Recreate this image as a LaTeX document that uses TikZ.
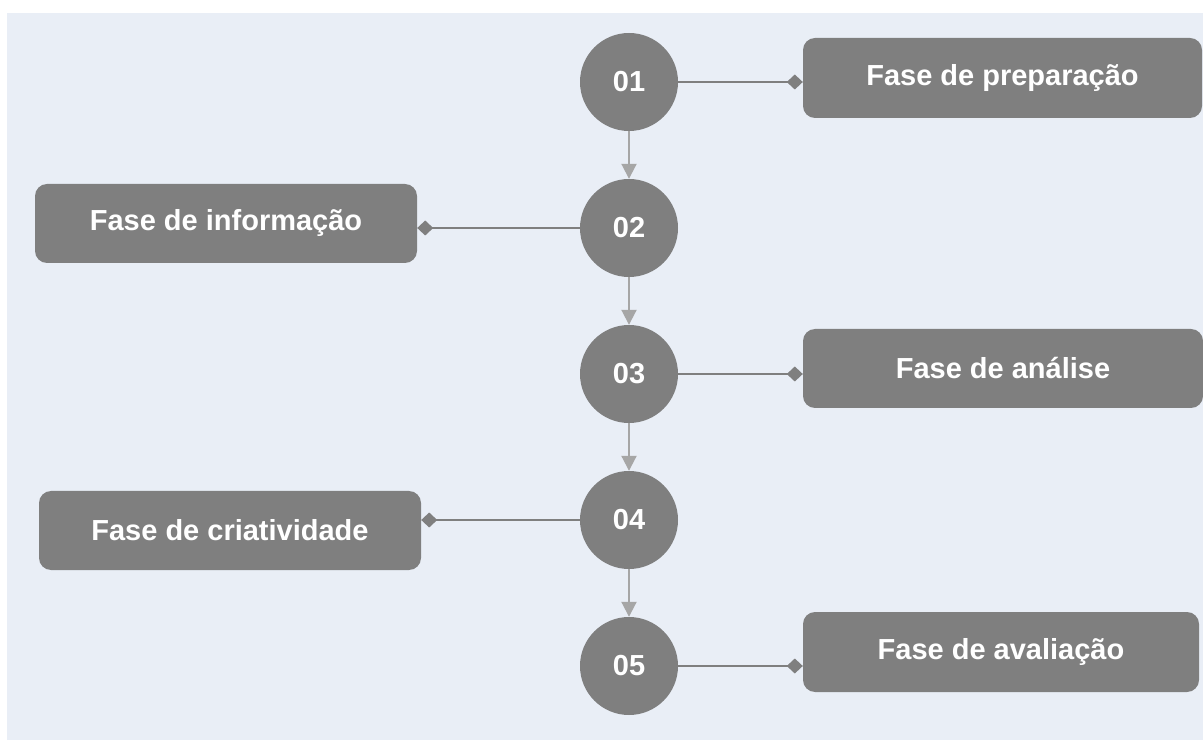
\documentclass[tikz,border=0pt]{standalone}
\usepackage{fontspec}
\setmainfont{Liberation Sans}
\usepackage{xcolor}
\usepackage{tikz}
\usetikzlibrary{arrows.meta, positioning}

\definecolor{bgblue}{RGB}{233,238,246}
\definecolor{nodegray}{RGB}{127,127,127}
\definecolor{arrowgray}{RGB}{166,166,166}
\newcommand{\phasefont}{\fontsize{29}{33}\selectfont\bfseries}

\begin{document}
\begin{tikzpicture}[x=1pt,y=1pt,node distance=146pt,
                    main node/.style={circle,fill=nodegray,minimum size=98pt,inner sep=0pt,text=white,font=\phasefont},
                    phase box/.style={rounded corners=12pt,fill=nodegray,inner sep=0pt,text=white,font=\phasefont},
                    down arrow/.style={draw=arrowgray,line width=2pt,-{Triangle[length=15pt,width=15pt]}},
                    phase link/.style={draw=nodegray,line width=2pt,-{Diamond[length=16pt,width=15pt]}}]

  \useasboundingbox (0,0) rectangle (1203,740);
  \fill[bgblue] (7,0) rectangle (1203,727);

  \node[main node] (1) at (629,658) {01};
  \node[main node] (2) [below of=1] {02};
  \node[main node] (3) [below of=2] {03};
  \node[main node] (4) [below of=3] {04};
  \node[main node] (5) [below of=4] {05};

  \node[phase box,minimum width=399pt,minimum height=80pt] (b1) at (1002.5,662) {Fase de preparação};
  \node[phase box,minimum width=382pt,minimum height=79pt] (b2) at (226,516.5) {Fase de informação};
  \node[phase box,minimum width=400pt,minimum height=79pt] (b3) at (1003,371.5) {Fase de análise};
  \node[phase box,minimum width=382pt,minimum height=79pt] (b4) at (230,209.5) {Fase de criatividade};
  \node[phase box,minimum width=396pt,minimum height=80pt] (b5) at (1001,88) {Fase de avaliação};

  \draw[down arrow] (1) -- (2);
  \draw[down arrow] (2) -- (3);
  \draw[down arrow] (3) -- (4);
  \draw[down arrow] (4) -- (5);

  \draw[phase link] (1.east) -- (1.east -| b1.west);
  \draw[phase link] (2.west) -- (2.west -| b2.east);
  \draw[phase link] (3.east) -- (3.east -| b3.west);
  \draw[phase link] (4.west) -- (4.west -| b4.east);
  \draw[phase link] (5.east) -- (5.east -| b5.west);
\end{tikzpicture}
\end{document}
